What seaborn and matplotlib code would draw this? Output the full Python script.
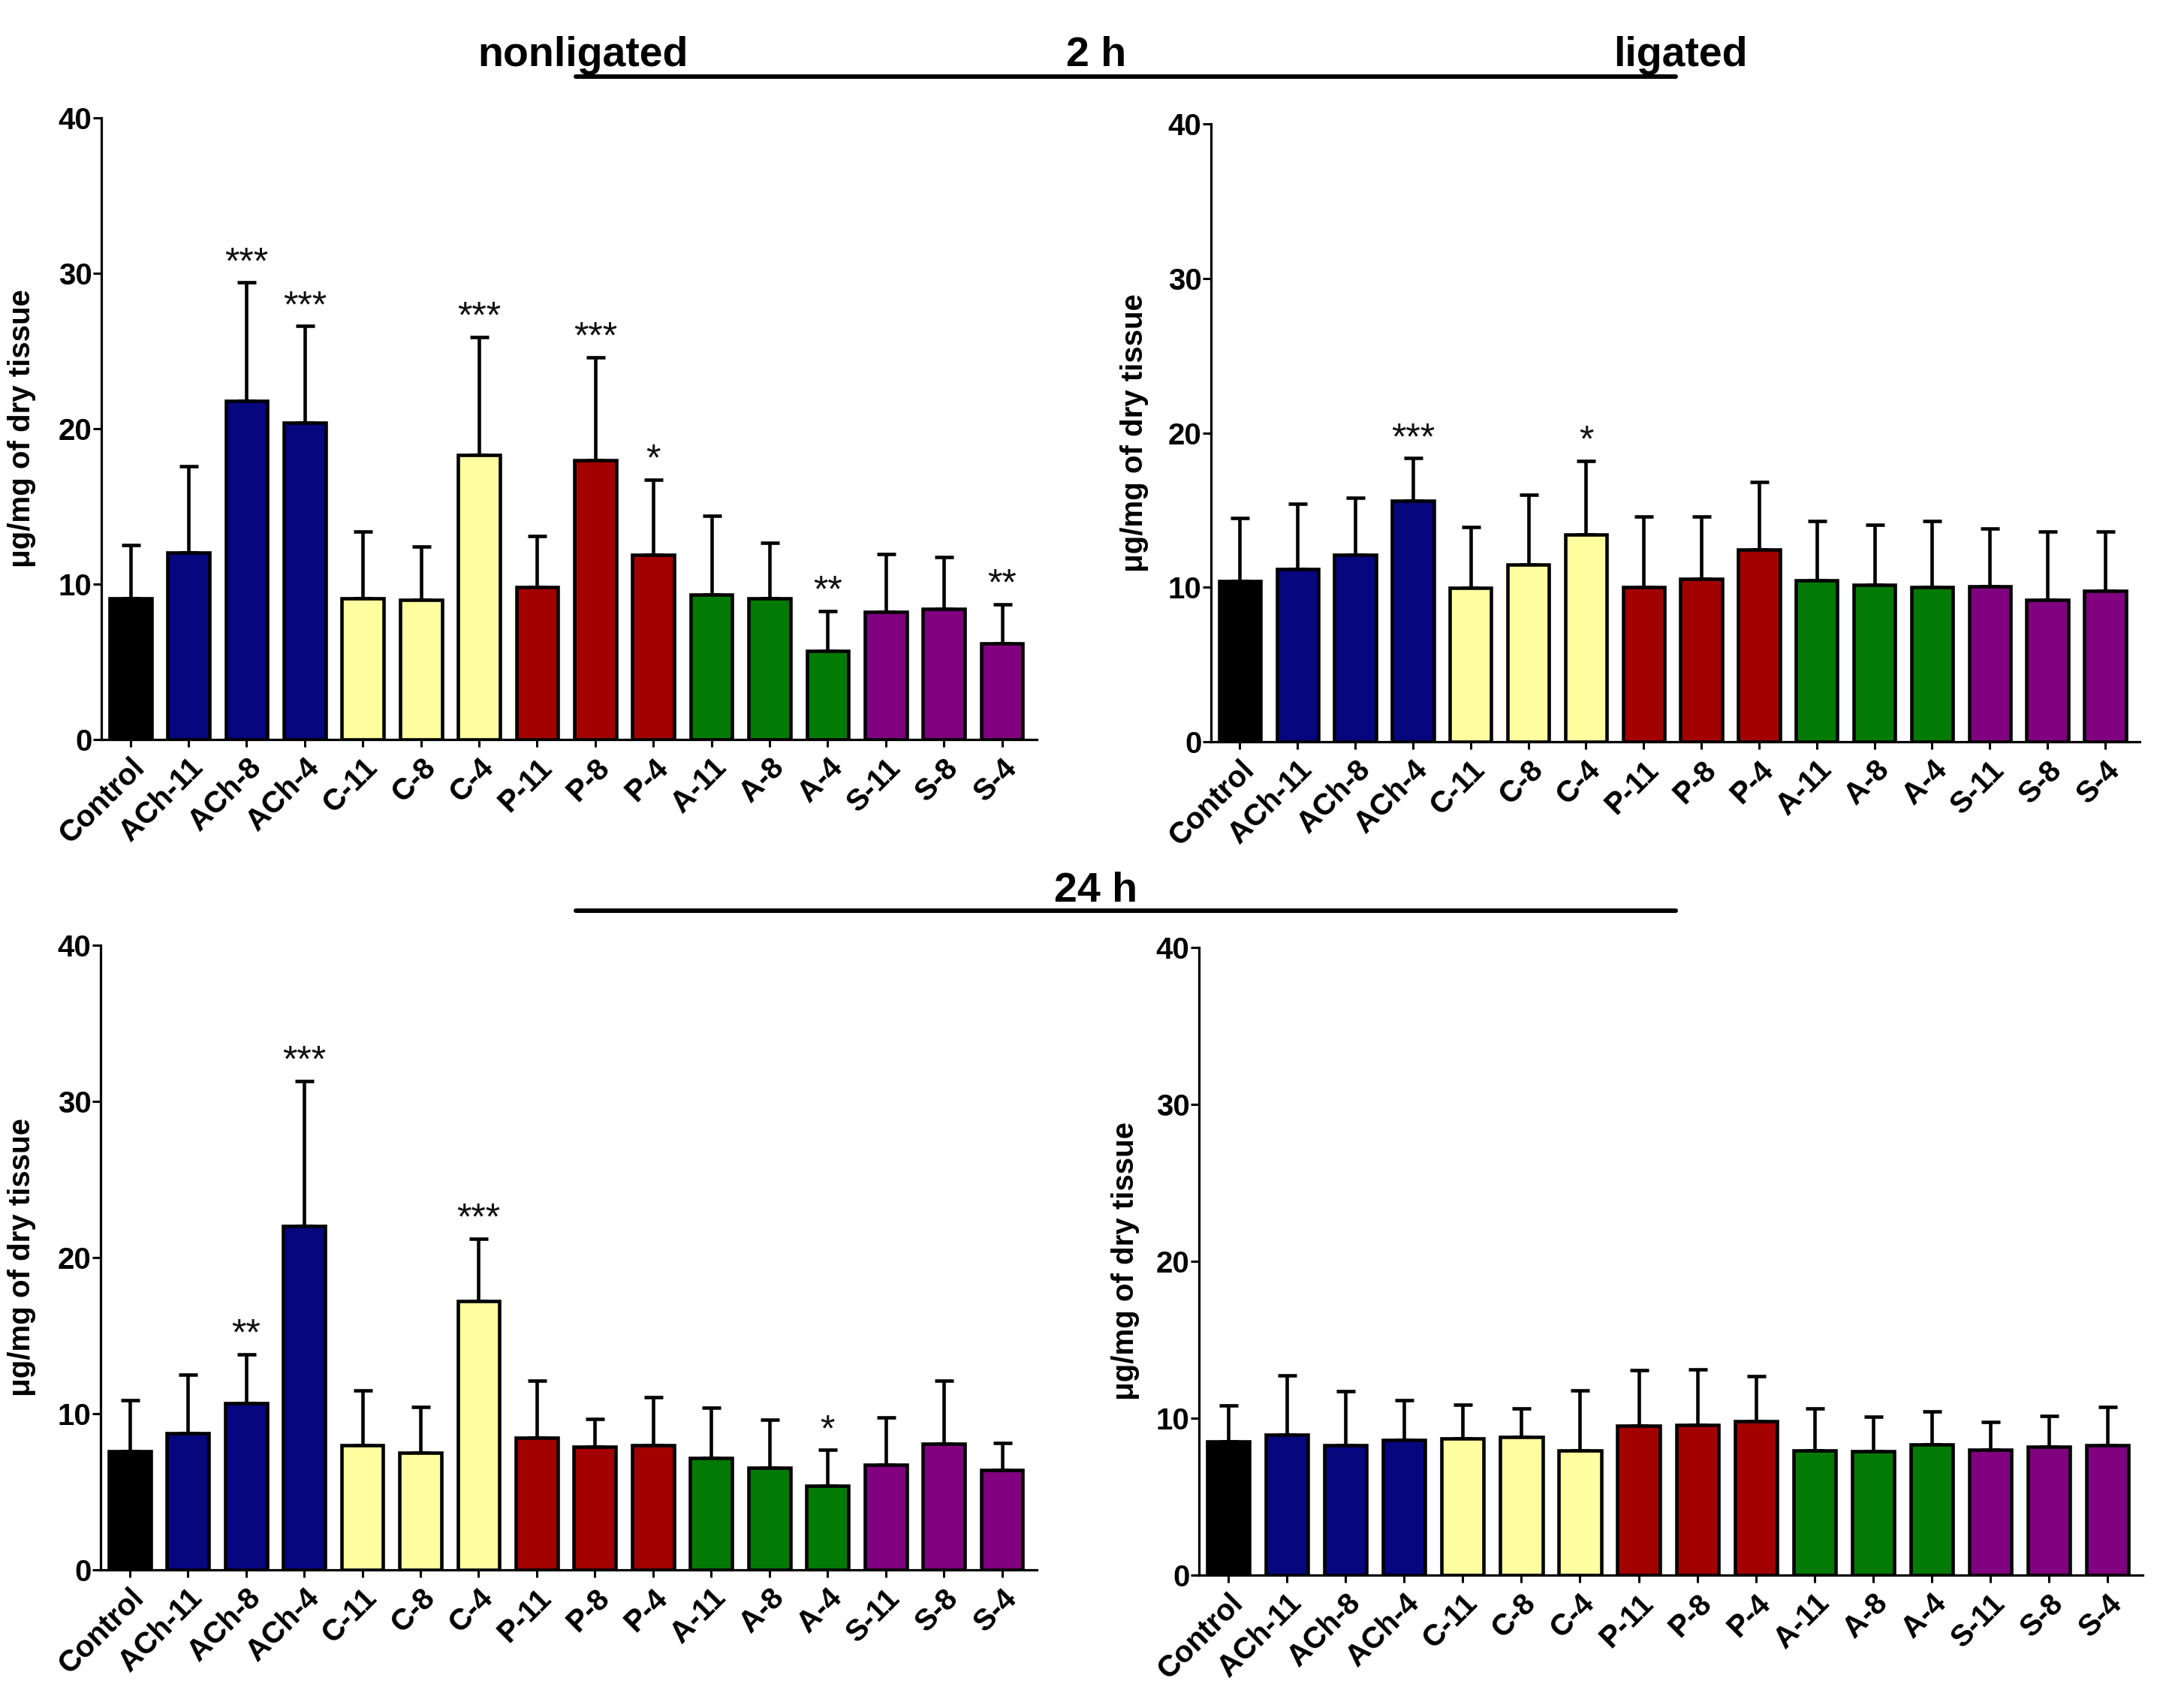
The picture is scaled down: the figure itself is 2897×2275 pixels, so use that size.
import numpy as np
import pandas as pd
import matplotlib
matplotlib.use("Agg")
import matplotlib.pyplot as plt
from matplotlib.lines import Line2D
import seaborn as sns

# ---------------- data ----------------
groups = ["Control", "ACh-11", "ACh-8", "ACh-4", "C-11", "C-8", "C-4",
          "P-11", "P-8", "P-4", "A-11", "A-8", "A-4", "S-11", "S-8", "S-4"]
bar_colors = ["#000000", "#06067f", "#06067f", "#06067f",
              "#ffffa0", "#ffffa0", "#ffffa0",
              "#a30000", "#a30000", "#a30000",
              "#037a03", "#037a03", "#037a03",
              "#800080", "#800080", "#800080"]

mean_2h_nonlig = [9.07, 12.04, 21.8, 20.4, 9.1, 9.0, 18.3, 9.8, 17.96, 11.9,
                  9.3, 9.1, 5.7, 8.2, 8.4, 6.2]
err_2h_nonlig = [3.43, 5.56, 7.6, 6.2, 4.3, 3.4, 7.6, 3.3, 6.64, 4.8,
                 5.1, 3.55, 2.55, 3.75, 3.35, 2.5]
stars_2h_nonlig = ["", "", "***", "***", "", "", "***", "", "***", "*",
                   "", "", "**", "", "", "**"]

mean_2h_lig = [10.4, 11.2, 12.1, 15.6, 9.97, 11.45, 13.4, 10.0, 10.55, 12.45,
               10.47, 10.15, 10.0, 10.06, 9.17, 9.76]
err_2h_lig = [4.1, 4.2, 3.7, 2.75, 3.93, 4.55, 4.8, 4.6, 4.02, 4.35,
              3.83, 3.92, 4.3, 3.74, 4.43, 3.84]
stars_2h_lig = ["", "", "", "***", "", "", "*", "", "", "",
                "", "", "", "", "", ""]

mean_24h_nonlig = [7.58, 8.75, 10.67, 22.04, 7.99, 7.49, 17.2, 8.48, 7.9, 8.0,
                   7.17, 6.56, 5.4, 6.73, 8.1, 6.38]
err_24h_nonlig = [3.27, 3.75, 3.13, 9.26, 3.51, 2.95, 4.0, 3.62, 1.75, 3.05,
                  3.23, 3.04, 2.27, 3.04, 4.0, 1.75]
stars_24h_nonlig = ["", "", "**", "***", "", "", "***", "", "", "",
                    "", "", "*", "", "", ""]

mean_24h_lig = [8.5, 8.93, 8.3, 8.59, 8.73, 8.79, 7.92, 9.51, 9.57, 9.83,
                7.95, 7.89, 8.32, 8.0, 8.2, 8.3]
err_24h_lig = [2.3, 3.8, 3.4, 2.55, 2.12, 1.81, 3.83, 3.57, 3.53, 2.85,
               2.65, 2.21, 2.12, 1.78, 1.92, 2.43]
stars_24h_lig = [""] * 16

y_ticks = [0, 10, 20, 30, 40]
y_label = "\u03bcg/mg of dry tissue"

# ---------------- style ----------------
sns.set_style("ticks")
plt.rcParams["font.family"] = ["Liberation Sans", "DejaVu Sans"]
plt.rcParams["font.weight"] = "bold"
for key in ["text.color", "axes.labelcolor", "xtick.color", "ytick.color",
            "axes.edgecolor"]:
    plt.rcParams[key] = "black"

W, H = 2897, 2275
fig = plt.figure(figsize=(W / 100, H / 100), dpi=100)

LW = 3.3

def px_rect(left, top, right, bottom):
    return [left / W, 1 - bottom / H, (right - left) / W, (bottom - top) / H]

panels = [
    (px_rect(135, 157, 1381, 985), mean_2h_nonlig, err_2h_nonlig, stars_2h_nonlig, -0.070),
    (px_rect(1613, 165, 2850, 988), mean_2h_lig, err_2h_lig, stars_2h_lig, -0.067),
    (px_rect(134, 1259, 1381, 2091), mean_24h_nonlig, err_24h_nonlig, stars_24h_nonlig, -0.069),
    (px_rect(1597, 1262, 2854, 2098), mean_24h_lig, err_24h_lig, stars_24h_lig, -0.063),
]

palette = dict(zip(groups, bar_colors))

for rect, means, errs, stars, ylab_x in panels:
    ax = fig.add_axes(rect)
    df = pd.DataFrame({"group": groups, "value": means, "err": errs, "stars": stars})
    sns.barplot(data=df, x="group", y="value", hue="group", palette=palette,
                order=groups, hue_order=groups, legend=False, errorbar=None,
                width=0.72, edgecolor="black", linewidth=LW, saturation=1,
                ax=ax, zorder=2)
    xpos = np.arange(len(groups))
    m = np.asarray(means)
    e = np.asarray(errs)
    ax.errorbar(xpos, m, yerr=[np.zeros_like(e), e], fmt="none", ecolor="black",
                elinewidth=LW, capsize=9, capthick=LW, zorder=1)
    for xi, top, s in zip(xpos, m + e, stars):
        if s:
            ax.text(xi, top + 0.6, s, ha="center", va="baseline",
                    fontsize=36, fontweight="normal", color="#111111")
    ax.set_ylim(0, 40)
    ax.set_xlim(-0.5, 15.6)
    ax.set_yticks(y_ticks)
    ax.set_yticklabels([str(t) for t in y_ticks], fontsize=29, fontweight="bold")
    ax.set_xticks(xpos)
    ax.set_xticklabels(groups, rotation=45, ha="right", va="top",
                       rotation_mode="anchor", fontsize=29, fontweight="bold")
    ax.set_xlabel("")
    ax.set_ylabel(y_label, fontsize=29, fontweight="bold")
    ax.yaxis.set_label_coords(ylab_x, 0.5)
    for side in ["top", "right"]:
        ax.spines[side].set_visible(False)
    for side in ["left", "bottom"]:
        ax.spines[side].set_linewidth(2.3)
    ax.tick_params(axis="y", length=8, width=2.2, pad=1)
    ax.tick_params(axis="x", length=7, width=2.2, pad=6)
    ax.set_facecolor("white")

# ---------------- header texts & lines ----------------
def fx(x):
    return x / W

def fy(y):
    return 1 - y / H

fig.text(fx(776), fy(88), "nonligated", ha="center", va="baseline",
         fontsize=40, fontweight="bold")
fig.text(fx(1460), fy(88), "2 h", ha="center", va="baseline",
         fontsize=40, fontweight="bold")
fig.text(fx(2238), fy(88), "ligated", ha="center", va="baseline",
         fontsize=40, fontweight="bold")
fig.text(fx(1460), fy(1201), "24 h", ha="center", va="baseline",
         fontsize=40, fontweight="bold")

fig.add_artist(Line2D([fx(767), fx(2232)], [fy(102), fy(102)],
                      color="black", linewidth=4.3, transform=fig.transFigure))
fig.add_artist(Line2D([fx(767), fx(2232)], [fy(1213), fy(1213)],
                      color="black", linewidth=4.3, transform=fig.transFigure))

fig.savefig("out.png", dpi=100, facecolor="white")
